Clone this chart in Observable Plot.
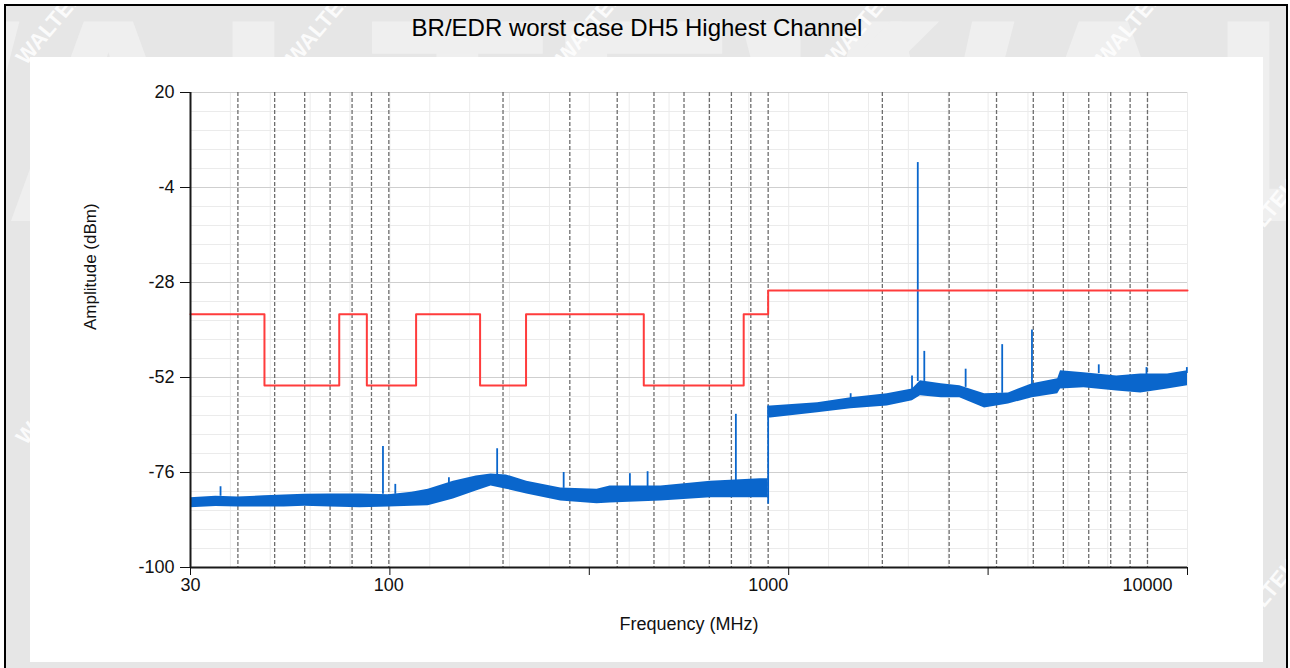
<!DOCTYPE html>
<html>
<head>
<meta charset="utf-8">
<script src="https://cdn.jsdelivr.net/npm/d3@7"></script>
<script src="https://cdn.jsdelivr.net/npm/@observablehq/plot@0.6"></script>
<style>
html, body { margin: 0; padding: 0; background: #fff; width: 1290px; height: 668px; overflow: hidden;
  font-family: "Liberation Sans", Arial, sans-serif; }
#frame { position: absolute; left: 4px; top: 4px; width: 1280px; height: 700px; border: 2px solid #000;
  background: #e6e6e6; overflow: hidden; }
#wm { position: absolute; left: 0; top: 0; }
#title { position: absolute; left: 631px; top: 10px; transform: translateX(-50%); white-space: nowrap;
  font-size: 24px; line-height: 24px; color: #000; }
#panel { position: absolute; left: 24px; top: 51px; width: 1233px; height: 605px; background: #fff; }
#panel svg { display: block; }
</style>
</head>
<body>
<div id="frame">
  <svg id="wm" width="1280" height="700"></svg>
  <div id="title"></div>
  <div id="panel"></div>
</div>
<script>
// ---- data ----
const chartTitle = "BR/EDR worst case DH5 Highest Channel";
const xLabel = "Frequency (MHz)";
const yLabel = "Amplitude (dBm)";
const watermarkText = "WALTEK";
const xTickLabels = [30, 100, 1000, 10000];
const yTicks = [20, -4, -28, -52, -76, -100];
const dashedGridX = [40, 50, 60, 70, 80, 90, 100, 200, 300, 400, 500, 600, 700, 800, 900, 1000,
  2000, 3000, 4000, 5000, 6000, 7000, 8000, 9000, 10000];

// limit line (step)
const limitFreq  = [30, 47, 74, 87.5, 118, 174, 230, 470, 862, 1000, 12750];
const limitLevel = [-36, -54, -36, -54, -36, -54, -36, -54, -36, -30, -30];

// measured trace: noise band (upper / lower edge) at sampled frequencies
const bandFreq = [30, 35, 40, 47, 53, 60, 70, 84, 100, 115, 127, 148, 170, 186, 204, 231, 284, 354, 383,
  522, 705, 953, 1000, 1000, 1016, 1350, 1653, 2060, 2400, 2520, 2860, 3200, 3720, 4300, 4970, 5800,
  5900, 6800, 8300, 9600, 11300, 12750];
const bandHigh = [-82.4, -82.0, -82.2, -81.9, -81.7, -81.5, -81.4, -81.4, -81.6, -81.0, -80.2, -78.2, -76.9,
  -76.4, -76.6, -78.2, -79.9, -80.2, -79.4, -79.4, -78.2, -77.6, -77.6, -59.2, -59.2, -58.4, -57.1,
  -56.1, -54.9, -52.8, -53.6, -54.1, -56.1, -55.9, -53.6, -52.3, -50.3, -50.8, -51.6, -51.1, -51.1, -50.3];
const bandLow = [-84.9, -84.6, -84.7, -84.7, -84.7, -84.5, -84.7, -84.9, -84.7, -84.5, -84.4, -82.7, -80.7,
  -79.4, -80.2, -81.4, -83.2, -83.9, -83.7, -83.2, -82.4, -82.4, -82.4, -62.2, -62.2, -60.9, -59.9,
  -59.2, -57.9, -56.6, -57.1, -57.1, -59.7, -58.7, -57.1, -56.1, -54.9, -54.6, -55.4, -55.9, -54.9, -54.1];

// spurious peaks (and the sweep's jump at 1 GHz)
const spikeFreq = [36, 96.5, 104, 144, 193, 289, 432, 481, 822, 1000, 1650, 2395, 2480, 2580, 3316, 4140, 4960, 7440, 9940, 12700];
const spikeBase = [-82, -81.5, -81.5, -79, -77, -80, -80, -80, -78.5, -84, -58, -55, -53, -53, -54.5, -56, -54, -51, -52, -51];
const spikePeak = [-79.6, -69.4, -79, -77.3, -70.0, -76, -76.3, -75.8, -61.3, -59.2, -56.1, -51.6, 2.3, -45.4, -49.9, -43.7, -40.0, -48.8, -49.5, -49.5];

// ---- tables built from the arrays ----
const limitData = limitFreq.map((f, i) => ({f, v: limitLevel[i]}));
const bandData = bandFreq.map((f, i) => ({f, hi: bandHigh[i], lo: bandLow[i]}));
const spikeData = spikeFreq.map((f, i) => ({f, base: spikeBase[i], peak: spikePeak[i]}));

const xDomain = [30, 12750];
const yDomain = [-100, 20];
// chart-control style axis intervals: 5 major log intervals, 5 minor each
const logSpan = xDomain[1] / xDomain[0];
const majorX = d3.range(6).map(i => xDomain[0] * Math.pow(logSpan, i / 5));
const minorX = d3.range(26).map(i => xDomain[0] * Math.pow(logSpan, i / 25));
const minorY = d3.range(26).map(i => yDomain[0] + i * 4.8);

const BLUE = "#0a66cc";
const RED = "#ff3c3c";
const AX = "#1a1a1a";

// ---- watermark in the grey surround ----
const FONT = '"Liberation Sans", Arial, sans-serif';
const wm = d3.select("#wm");
wm.append("text").attr("x", 735).attr("y", 215).attr("font-size", 290).attr("font-weight", "bold")
  .attr("font-family", FONT).attr("fill", "#efefef").text(watermarkText);
wm.append("text").attr("x", -260).attr("y", 215).attr("font-size", 290).attr("font-weight", "bold")
  .attr("font-family", FONT).attr("fill", "#efefef").text(watermarkText);
const wmPos = [];
for (let r = 0; r < 4; r++) for (let c = 0; c < 6; c++) wmPos.push([c * 270 + (r % 2) * 135 + 20, r * 190 + 60]);
// keep only the marks that show in the grey surround (the white panel hides the rest)
const visibleWm = wmPos.filter(([x, y]) => y - 72 < 51 || x < 24 || x + 60 > 1257 || y > 656);
wm.selectAll("text.w").data(visibleWm).join("text").attr("class", "w")
  .attr("transform", d => `translate(${d[0]},${d[1]}) rotate(-50)`)
  .attr("font-size", 22).attr("font-weight", "bold").attr("font-family", FONT)
  .attr("fill", "#ffffff").attr("opacity", 0.85).text(watermarkText);

const chart = Plot.plot({
  width: 1233, height: 605,
  marginLeft: 160, marginRight: 76, marginTop: 35, marginBottom: 95,
  style: {fontFamily: FONT, background: "transparent", color: "#111", overflow: "visible"},
  x: {type: "log", domain: xDomain},
  y: {domain: yDomain},
  marks: [
    Plot.ruleY(minorY, {stroke: "#ebebeb", strokeWidth: 1}),
    Plot.ruleX(minorX, {stroke: "#ebebeb", strokeWidth: 1}),
    Plot.ruleY(yTicks, {stroke: "#cfcfcf", strokeWidth: 1}),
    Plot.ruleX(dashedGridX, {stroke: "#6e6e6e", strokeWidth: 1.3, strokeDasharray: "4,2"}),
    Plot.areaY(bandData, {x: "f", y1: "lo", y2: "hi", fill: BLUE}),
    Plot.ruleX(spikeData, {x: "f", y1: "base", y2: "peak", stroke: BLUE, strokeWidth: 1.8}),
    Plot.line(limitData, {x: "f", y: "v", curve: "step-after", stroke: RED, strokeWidth: 2}),
    Plot.ruleY([yDomain[0]], {stroke: AX, strokeWidth: 2}),
    Plot.ruleX([xDomain[0]], {stroke: AX, strokeWidth: 2}),
    Plot.axisY({ticks: yTicks, tickSize: 10, tickPadding: 6, fontSize: 18, label: null, tickFormat: d => String(d)}),
    Plot.axisX({ticks: majorX, tickSize: 8, tickFormat: () => "", label: null}),
    Plot.axisX({ticks: xTickLabels, tickSize: 0, tickPadding: 11, fontSize: 18, label: null, tickFormat: d => String(d)}),
    Plot.text([xLabel], {frameAnchor: "bottom", dy: 62, fontSize: 18, fill: "#111"}),
    Plot.text([yLabel], {frameAnchor: "left", dx: -100, rotate: -90, fontSize: 17, fill: "#111"})
  ]
});
document.getElementById("panel").appendChild(chart);
document.getElementById("title").textContent = chartTitle;
</script>
</body>
</html>
